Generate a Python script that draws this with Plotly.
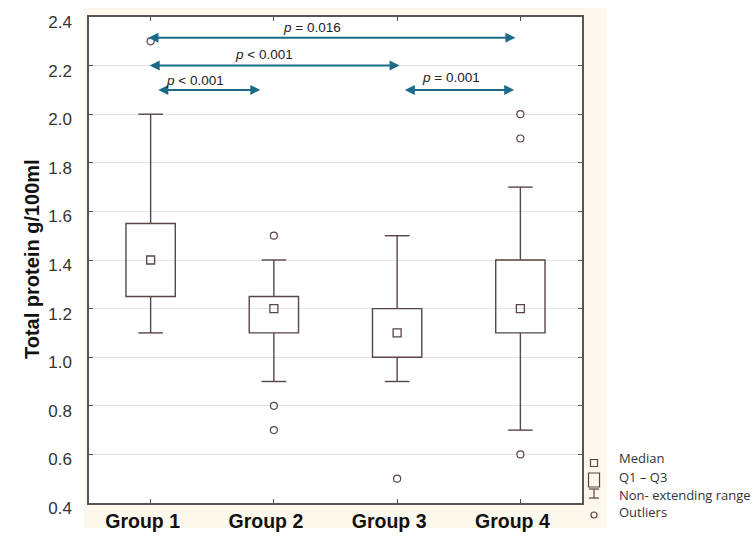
import plotly.graph_objects as go

# ---------------- data ----------------
groups = ["Group 1", "Group 2", "Group 3", "Group 4"]
q1 = [1.25, 1.10, 1.00, 1.10]
median = [1.40, 1.20, 1.10, 1.20]
q3 = [1.55, 1.25, 1.20, 1.40]
whisker_low = [1.10, 0.90, 0.90, 0.70]
whisker_high = [2.00, 1.40, 1.50, 1.70]
outliers = [[2.30], [1.50, 0.80, 0.70], [0.50], [2.00, 1.90, 0.60]]

# pairwise comparisons (arrow start / end on the group axis, arrow level, label)
comp_labels = ["<i>p</i> = 0.016", "<i>p</i> < 0.001", "<i>p</i> < 0.001", "<i>p</i> = 0.001"]
comp_x0 = [-0.03, -0.02, 0.05, 2.05]
comp_x1 = [2.96, 2.02, 0.89, 2.95]
comp_y = [2.315, 2.20, 2.10, 2.10]
comp_label_x = [1.31, 0.92, 0.36, 2.44]
comp_label_y = [2.355, 2.245, 2.14, 2.152]

y_ticks = [0.4, 0.6, 0.8, 1.0, 1.2, 1.4, 1.6, 1.8, 2.0, 2.2, 2.4]

legend_items = ["Median", "Q1 – Q3", "Non- extending range", "Outliers"]

# ---------------- style ----------------
BOX = "#5a4545"
ARROW = "#1b6a87"
BEIGE = "#fdf8ec"
L, R, T, B = 89, 173, 17, 34
W, H = 755, 537
PW, PH = W - L - R, H - T - B


def px(x):
    return (x - L) / PW


def py(y):
    return (H - B - y) / PH


fig = go.Figure()
shapes = []
# beige panel + white plot area
shapes.append(dict(type="rect", xref="paper", yref="paper", x0=px(84), x1=px(607),
                   y0=py(528), y1=py(8), fillcolor=BEIGE, line_width=0, layer="below"))
shapes.append(dict(type="rect", xref="paper", yref="paper", x0=0, x1=1, y0=0, y1=1,
                   fillcolor="white", line_width=0, layer="below"))

hw, cw = 0.2, 0.1
for i in range(len(groups)):
    shapes.append(dict(type="line", x0=i, x1=i, y0=q3[i], y1=whisker_high[i],
                       line=dict(color=BOX, width=1.4)))
    shapes.append(dict(type="line", x0=i, x1=i, y0=whisker_low[i], y1=q1[i],
                       line=dict(color=BOX, width=1.4)))
    shapes.append(dict(type="line", x0=i - cw, x1=i + cw, y0=whisker_high[i], y1=whisker_high[i],
                       line=dict(color=BOX, width=1.4)))
    shapes.append(dict(type="line", x0=i - cw, x1=i + cw, y0=whisker_low[i], y1=whisker_low[i],
                       line=dict(color=BOX, width=1.4)))
    shapes.append(dict(type="rect", x0=i - hw, x1=i + hw, y0=q1[i], y1=q3[i],
                       line=dict(color=BOX, width=1.4), fillcolor="rgba(0,0,0,0)"))

fig.add_trace(go.Scatter(x=list(range(len(groups))), y=median, mode="markers",
                         marker=dict(symbol="square-open", size=8, color=BOX, line=dict(width=1.3)),
                         showlegend=False, hoverinfo="skip"))
ox, oy = [], []
for i, vals in enumerate(outliers):
    for v in vals:
        ox.append(i)
        oy.append(v)
fig.add_trace(go.Scatter(x=ox, y=oy, mode="markers",
                         marker=dict(symbol="circle-open", size=7, color=BOX, line=dict(width=1.2)),
                         showlegend=False, hoverinfo="skip"))

annotations = []
for k in range(len(comp_labels)):
    annotations.append(dict(x=comp_x1[k], y=comp_y[k], ax=comp_x0[k], ay=comp_y[k],
                            xref="x", yref="y", axref="x", ayref="y", text="",
                            showarrow=True, arrowhead=2, startarrowhead=2, arrowside="end+start",
                            arrowsize=1, startarrowsize=1, arrowwidth=2, arrowcolor=ARROW))
    annotations.append(dict(x=comp_label_x[k], y=comp_label_y[k], xref="x", yref="y",
                            text=comp_labels[k], showarrow=False,
                            font=dict(family="Liberation Sans, Arial", size=13.5, color="#222")))

# y-axis title
annotations.append(dict(x=px(19), y=py(259), xref="paper", yref="paper",
                        text="<b>Total protein g/100ml</b>", textangle=-90, showarrow=False,
                        font=dict(family="Liberation Sans, Arial", size=20, color="#111")))

# legend (custom)
lx = 594
shapes.append(dict(type="rect", xref="paper", yref="paper", x0=px(lx - 3.5), x1=px(lx + 3.5),
                   y0=py(466.5), y1=py(459.5), line=dict(color=BOX, width=1.2)))
shapes.append(dict(type="rect", xref="paper", yref="paper", x0=px(lx - 5.5), x1=px(lx + 5.5),
                   y0=py(487), y1=py(473), line=dict(color=BOX, width=1.2)))
shapes.append(dict(type="line", xref="paper", yref="paper", x0=px(lx), x1=px(lx),
                   y0=py(498), y1=py(489), line=dict(color=BOX, width=1.2)))
shapes.append(dict(type="line", xref="paper", yref="paper", x0=px(lx - 5), x1=px(lx + 5),
                   y0=py(489), y1=py(489), line=dict(color=BOX, width=1.2)))
shapes.append(dict(type="line", xref="paper", yref="paper", x0=px(lx - 5), x1=px(lx + 5),
                   y0=py(498), y1=py(498), line=dict(color=BOX, width=1.2)))
shapes.append(dict(type="circle", xref="paper", yref="paper", x0=px(lx - 3), x1=px(lx + 3),
                   y0=py(518), y1=py(512), line=dict(color=BOX, width=1.2)))
leg_y = [458, 477, 495, 512]
for t, yy in zip(legend_items, leg_y):
    annotations.append(dict(x=px(617), y=py(yy), xref="paper", yref="paper", text=t,
                            xanchor="left", yanchor="middle", showarrow=False,
                            font=dict(family="Open Sans", size=13, color="#333")))

fig.update_layout(
    width=W, height=H, margin=dict(l=L, r=R, t=T, b=B),
    paper_bgcolor="white", plot_bgcolor="rgba(0,0,0,0)",
    shapes=shapes, annotations=annotations, showlegend=False,
)
fig.update_xaxes(range=[-0.5, 3.5], tickvals=list(range(len(groups))),
                 ticktext=[f"<b>{g}</b>" for g in groups],
                 tickfont=dict(family="Liberation Sans, Arial", size=19.5, color="#111"),
                 showgrid=False, zeroline=False, showline=True, linecolor="#555", linewidth=1.5,
                 mirror="ticks", ticks="inside", ticklen=4, tickcolor="#555",
                 automargin=False, ticklabelshift=-8, ticklabelstandoff=0)
fig.update_yaxes(range=[0.4, 2.4], tickvals=y_ticks, ticktext=[f"{v:.1f}" for v in y_ticks],
                 tickfont=dict(family="Liberation Sans, Arial", size=17, color="#333"),
                 showgrid=True, gridcolor="#e3e3e3", gridwidth=1.2, zeroline=False,
                 showline=True, linecolor="#555", linewidth=1.5, mirror="ticks",
                 ticks="inside", ticklen=4, tickcolor="#555", ticklabelshift=5,
                 ticklabelstandoff=12, automargin=False)

fig.write_html("out.html")
